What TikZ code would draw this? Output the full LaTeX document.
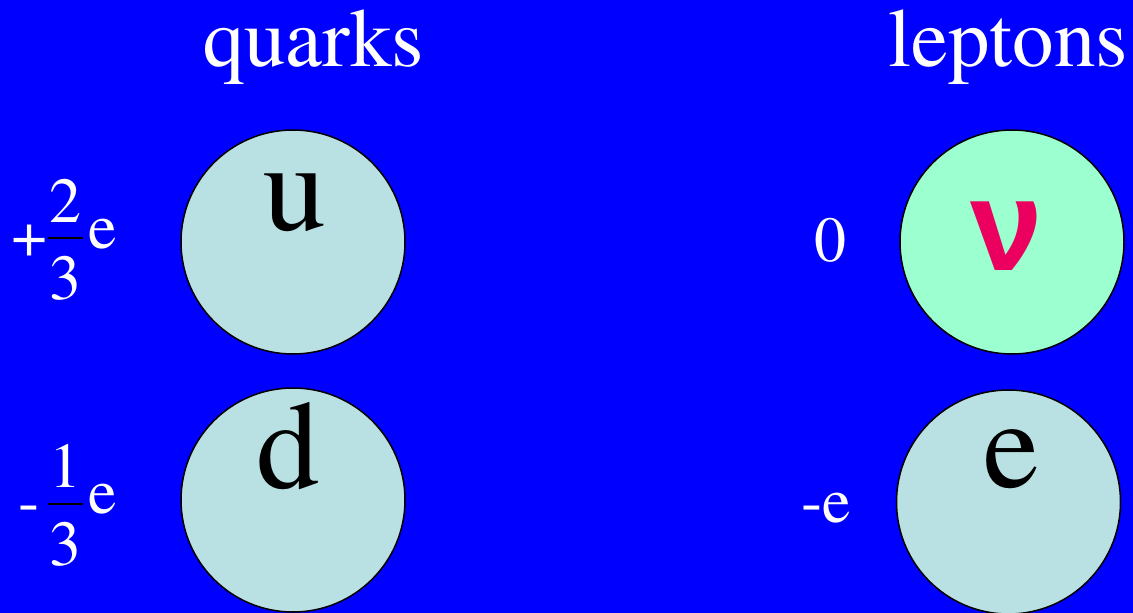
\documentclass[tikz,border=0pt]{standalone}
\usepackage{fontspec}
\setmainfont{TeX Gyre Termes}
\newfontfamily\nufont{Liberation Sans}
\usetikzlibrary{positioning}
\definecolor{SlideBlue}{RGB}{0,0,255}
\definecolor{BallCyan}{RGB}{185,224,226}
\definecolor{BallGreen}{RGB}{155,255,208}
\definecolor{NuRed}{RGB}{235,0,95}

\begin{document}
\begin{tikzpicture}[x=1pt,y=-1pt,
    ball/.style={circle,draw=black,line width=1.5pt,minimum size=224pt,inner sep=0pt},
    head/.style={text=white,font=\fontsize{83}{90}\selectfont,inner sep=0pt,anchor=base},
    flav/.style={font=\fontsize{126}{130}\selectfont,inner sep=0pt,anchor=base},
    chg/.style={text=white,font=\fontsize{64}{70}\selectfont,inner sep=0pt,anchor=base}]
  \fill[SlideBlue] (0,0) rectangle (1133,613);
  \useasboundingbox (0,0) rectangle (1133,613);
  \clip (0,0) rectangle (1133,613);
  % headings
  \node[head] (quarks) at (314,66) {quarks};
  \node[head] (leptons) at (1008,66) {leptons};
  % particles
  \node[ball,fill=BallCyan] (u) at (293,242) {};
  \node[ball,fill=BallCyan] (d) at (293,500) {};
  \node[ball,fill=BallGreen] (nu) at (1012,242) {};
  \node[ball,fill=BallCyan] (e) at (1008.5,502) {};
  \node[flav] (ulbl) at (295,230) {u};
  \node[flav] (dlbl) at (288,488) {d};
  \node[flav] (elbl) at (1011,487) {e};
  \node[flav,text=NuRed,font=\fontsize{130}{134}\nufont\bfseries] (nulbl) at (1007,270) {ν};
  % charges
  \node[chg] (uplus) at (29.5,256) {+};
  \node[chg] (unum) at (65.5,222) {2};
  \node[chg] (uden) at (65.5,299) {3};
  \node[chg] (ue) at (102.5,248) {e};
  \node[chg] (dminus) at (29,522) {-};
  \node[chg] (dnum) at (65.5,487) {1};
  \node[chg] (dden) at (65.5,565) {3};
  \node[chg] (de) at (102.5,513) {e};
  \draw[black,line width=2pt] (48,238) -- (83,238) (48,504) -- (83,504);
  \node[chg] (nuq) at (830,261) {0};
  \node[chg] (eq) at (826,522) {-e};
\end{tikzpicture}
\end{document}
